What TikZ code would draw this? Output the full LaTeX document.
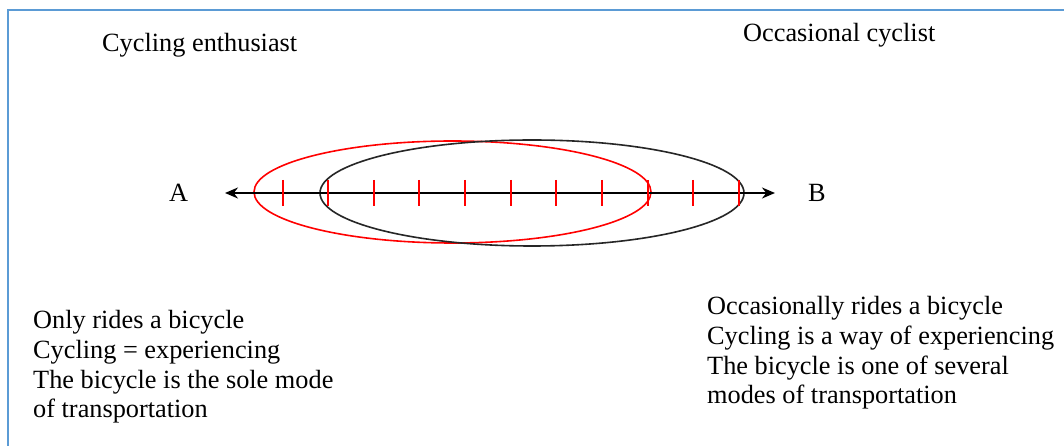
\documentclass[tikz,border=0pt]{standalone}
\usepackage{fontspec}
\setmainfont{Liberation Serif}
\usetikzlibrary{arrows.meta,shapes.geometric}

\tikzset{
  lbl/.style={anchor=base west, inner sep=0pt, font=\fontsize{26.4}{29.7}\selectfont},
  redring/.style={draw=red, ellipse, line width=1.6bp, inner sep=0pt},
  blackring/.style={draw=black!85, ellipse, line width=1.6bp, inner sep=0pt},
  axis/.style={line width=2bp, {Stealth[length=13bp,width=11bp]}-{Stealth[length=13bp,width=11bp]}},
  tick/.style={draw=red, line width=2bp},
  frameline/.style={draw={rgb,255:red,91;green,155;blue,213}, line width=2bp}
}

\begin{document}
\begin{tikzpicture}[x=1bp, y=-1bp]
  \useasboundingbox (0,0) rectangle (1064,446);
  \fill[white] (0,0) rectangle (1064,446);

  % outer frame (open to the right and bottom)
  \coordinate (fb) at (8,446);
  \coordinate (fc) at (8,10);
  \coordinate (fr) at (1064,10);
  \draw[frameline] (fb) -- (fc) -- (fr);

  % headings
  \node[lbl] (enth) at (102,52) {Cycling enthusiast};
  \node[lbl] (occ) at (743,42) {Occasional cyclist};

  % the two overlapping ranges
  \node[redring, minimum width=397bp, minimum height=102bp] (rr) at (452.5,192) {};
  \node[blackring, minimum width=424bp, minimum height=106bp] (br) at (532,193) {};

  % the scale between A and B
  \node[lbl] (A) at (169,202) {A};
  \node[lbl] (B) at (808,202) {B};
  \coordinate (aL) at (225,193);
  \coordinate (aR) at (775,193);
  \draw[axis] (aL) -- (aR);
  \foreach \tx in {283,328,374,419,465,511,556,602,648,693,739} {
    \draw[tick] (\tx,180) -- (\tx,206);
  }

  % descriptions
  \node[lbl] (ldesc) at (33,329) {\begin{tabular}[t]{@{}l@{}}Only rides a bicycle\\Cycling = experiencing\\The bicycle is the sole mode\\of transportation\end{tabular}};
  \node[lbl] (rdesc) at (707,315) {\begin{tabular}[t]{@{}l@{}}Occasionally rides a bicycle\\Cycling is a way of experiencing\\The bicycle is one of several\\modes of transportation\end{tabular}};
\end{tikzpicture}
\end{document}
